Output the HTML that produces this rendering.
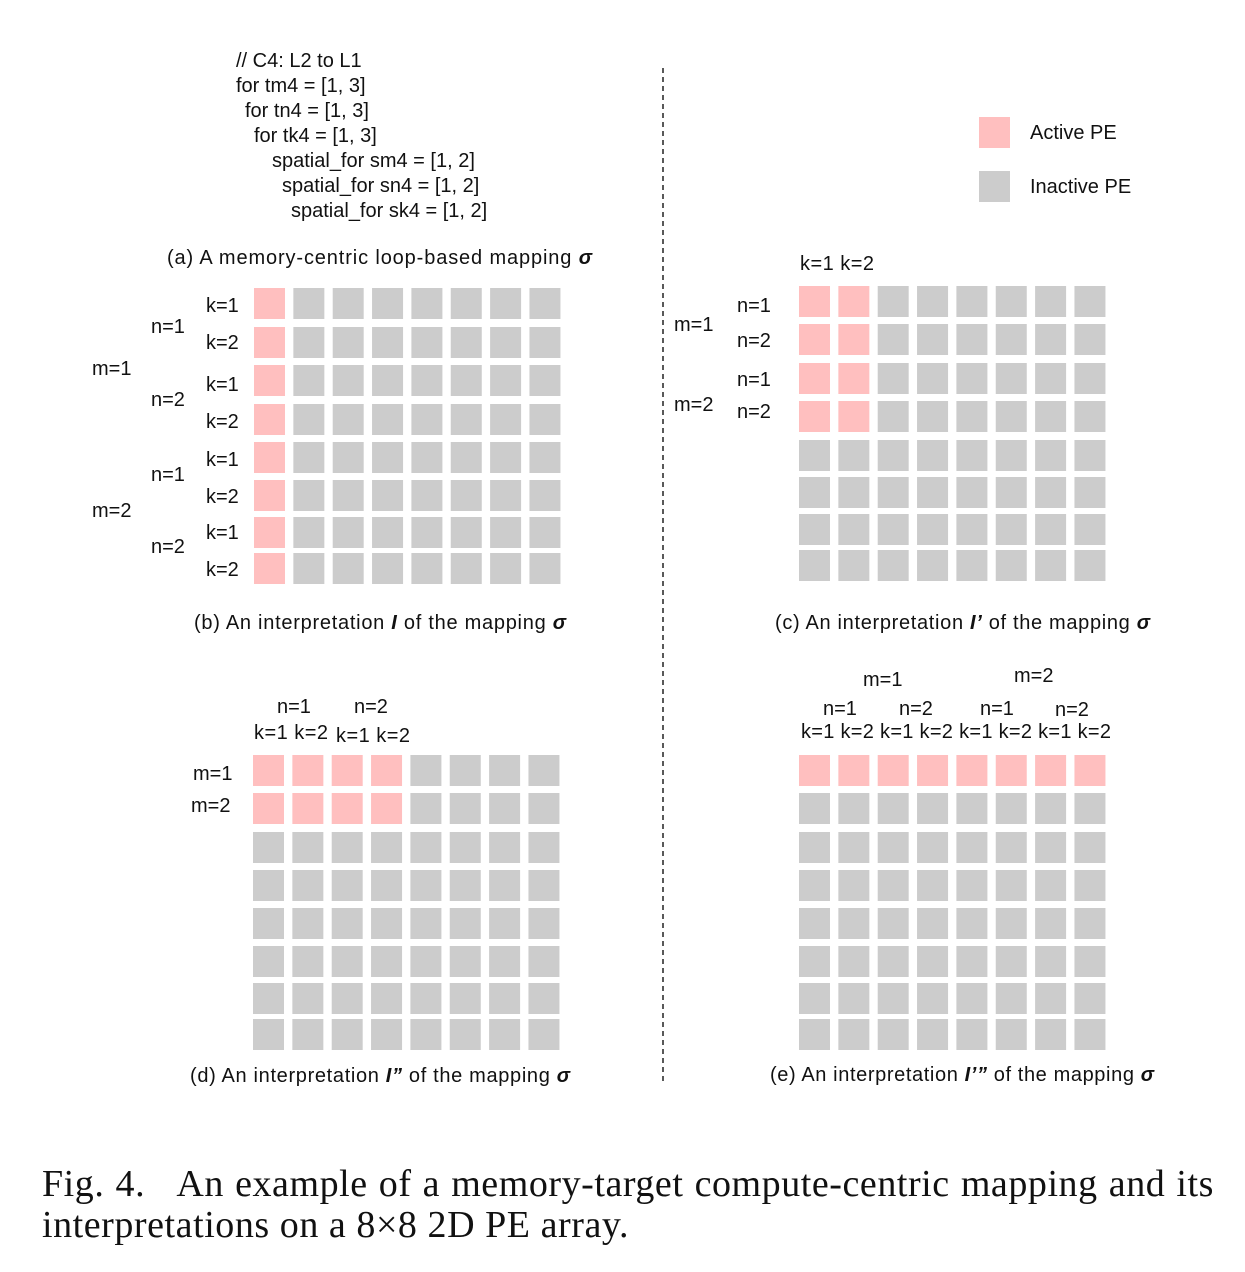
<!DOCTYPE html>
<html><head><meta charset="utf-8"><style>
body{margin:0;background:#fff;position:relative;width:1245px;height:1272px;overflow:hidden}
svg{position:absolute;left:0;top:0}
svg text{font-family:"Liberation Sans",sans-serif;font-size:20px;fill:#111}
.cap{position:absolute;left:42px;top:1164px;width:1172px;font-family:"Liberation Serif",serif;font-size:38px;line-height:41px;text-align:justify;text-align-last:left;color:#111;letter-spacing:0.55px}
</style></head><body>
<svg id="fig" width="1245" height="1272" viewBox="0 0 1245 1272">
<g>
<text x="236" y="67">// C4: L2 to L1</text>
<text x="236" y="92">for tm4 = [1, 3]</text>
<text x="245" y="117">for tn4 = [1, 3]</text>
<text x="254" y="142">for tk4 = [1, 3]</text>
<text x="272" y="167">spatial_for sm4 = [1, 2]</text>
<text x="282" y="192">spatial_for sn4 = [1, 2]</text>
<text x="291" y="217">spatial_for sk4 = [1, 2]</text>
</g>
<text x="167" y="264" textLength="425">(a) A memory-centric loop-based mapping <tspan font-weight="bold" font-style="italic">σ</tspan></text>
<line x1="663" y1="68" x2="663" y2="1085" stroke="#222" stroke-width="1.5" stroke-dasharray="5,4"/>
<g>
<rect x="979" y="117" width="31" height="31" fill="#ffbfbf"/>
<text x="1030" y="139">Active PE</text>
<rect x="979" y="171" width="31" height="31" fill="#cccccc"/>
<text x="1030" y="193">Inactive PE</text>
</g>
<g>
<text x="206" y="312">k=1</text><text x="206" y="349">k=2</text><text x="206" y="391">k=1</text><text x="206" y="428">k=2</text>
<text x="206" y="466">k=1</text><text x="206" y="503">k=2</text><text x="206" y="539">k=1</text><text x="206" y="576">k=2</text>
<text x="151" y="333">n=1</text><text x="151" y="406">n=2</text><text x="151" y="481">n=1</text><text x="151" y="553">n=2</text>
<text x="92" y="375">m=1</text><text x="92" y="517">m=2</text>
</g>
<text x="194" y="629" textLength="372">(b) An interpretation <tspan font-weight="bold" font-style="italic">I</tspan> of the mapping <tspan font-weight="bold" font-style="italic">σ</tspan></text>
<g>
<text x="800" y="270" textLength="74">k=1 k=2</text>
<text x="737" y="312">n=1</text><text x="737" y="347">n=2</text><text x="737" y="386">n=1</text><text x="737" y="418">n=2</text>
<text x="674" y="331">m=1</text><text x="674" y="411">m=2</text>
</g>
<text x="775" y="629" textLength="375">(c) An interpretation <tspan font-weight="bold" font-style="italic">I’</tspan> of the mapping <tspan font-weight="bold" font-style="italic">σ</tspan></text>
<g>
<text x="277" y="713">n=1</text><text x="354" y="713">n=2</text>
<text x="254" y="739" textLength="74">k=1 k=2</text><text x="336" y="742" textLength="74">k=1 k=2</text>
<text x="193" y="780">m=1</text><text x="191" y="812">m=2</text>
</g>
<text x="190" y="1082" textLength="380">(d) An interpretation <tspan font-weight="bold" font-style="italic">I”</tspan> of the mapping <tspan font-weight="bold" font-style="italic">σ</tspan></text>
<g>
<text x="863" y="686">m=1</text><text x="1014" y="682">m=2</text>
<text x="823" y="715">n=1</text><text x="899" y="715">n=2</text><text x="980" y="715">n=1</text><text x="1055" y="716">n=2</text>
<text x="801" y="738" textLength="310">k=1 k=2 k=1 k=2 k=1 k=2 k=1 k=2</text>
</g>
<text x="770" y="1081" textLength="384">(e) An interpretation <tspan font-weight="bold" font-style="italic">I’”</tspan> of the mapping <tspan font-weight="bold" font-style="italic">σ</tspan></text>
<g id="grids"></g>
</svg>
<div class="cap">Fig. 4.&nbsp;&nbsp; An example of a memory-target compute-centric mapping and its interpretations on a 8×8 2D PE array.</div>
<script>
// active masks (1 = active PE) per grid, rows of 8
const activeB = ["10000000","10000000","10000000","10000000","10000000","10000000","10000000","10000000"];
const activeC = ["11000000","11000000","11000000","11000000","00000000","00000000","00000000","00000000"];
const activeD = ["11110000","11110000","00000000","00000000","00000000","00000000","00000000","00000000"];
const activeE = ["11111111","00000000","00000000","00000000","00000000","00000000","00000000","00000000"];
const grids = [
  {name:'grid-b', mask:activeB, x0:254, rows:[288,327,365,404,442,480,517,553]},
  {name:'grid-c', mask:activeC, x0:799, rows:[286,324,363,401,440,477,514,550]},
  {name:'grid-d', mask:activeD, x0:253, rows:[755,793,832,870,908,946,983,1019]},
  {name:'grid-e', mask:activeE, x0:799, rows:[755,793,832,870,908,946,983,1019]}
];
const ns='http://www.w3.org/2000/svg';
const root=document.getElementById('grids');
grids.forEach(g=>{
  const grp=document.createElementNS(ns,'g');
  
  
  g.mask.forEach((row,r)=>{
    for(let c=0;c<8;c++){
      const on=row[c]==='1';
      const rc=document.createElementNS(ns,'rect');
      rc.setAttribute('x', g.x0 + c*39.35);
      rc.setAttribute('y', g.rows[r]);
      rc.setAttribute('width', 31);
      rc.setAttribute('height', 31);
      rc.setAttribute('fill', on ? '#ffbfbf' : '#cccccc');
      
      
      grp.appendChild(rc);
    }
  });
  root.appendChild(grp);
});
</script>
</body></html>
